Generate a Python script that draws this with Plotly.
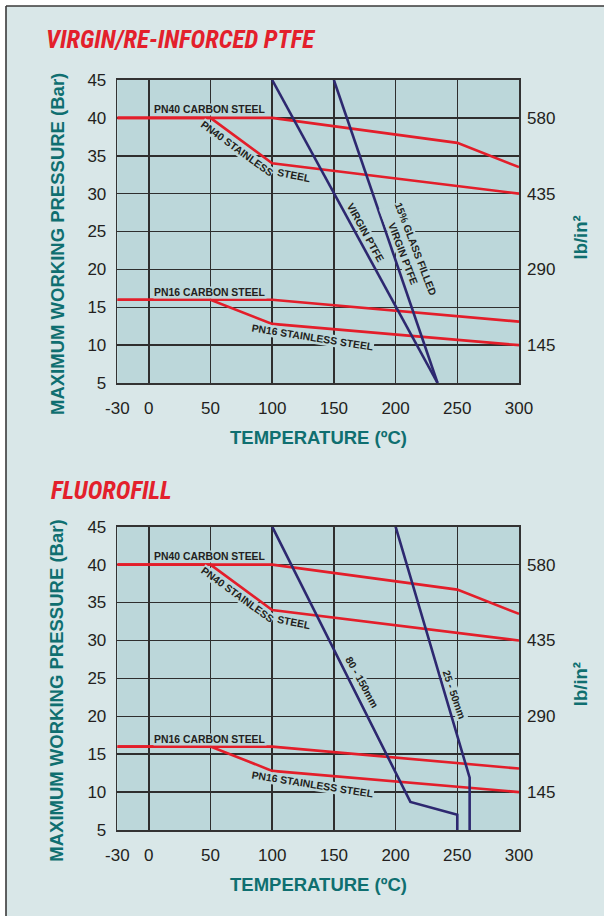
import plotly.graph_objects as go

# ---------------- data ----------------
X_TICKS = [-30, 0, 50, 100, 150, 200, 250, 300]
Y_TICKS = [5, 10, 15, 20, 25, 30, 35, 40, 45]
PSI_TICKS = [145, 290, 435, 580]
BAR_TO_PSI = 14.5

# red pressure ratings (same for both charts)
T_PN40_CS = [-30, 100, 250, 300]
P_PN40_CS = [40, 40, 36.7, 33.5]
T_PN40_SS = [-30, 50, 100, 300]
P_PN40_SS = [40, 40, 34, 30]
T_PN16_CS = [-30, 100, 300]
P_PN16_CS = [16, 16, 13.1]
T_PN16_SS = [-30, 50, 100, 300]
P_PN16_SS = [16, 16, 12.8, 10]

# Virgin / re-inforced PTFE
T_VIRGIN = [100, 234]
P_VIRGIN = [45, 5]
T_GLASS = [150, 234]
P_GLASS = [45, 5]

# Fluorofill
T_F80_150 = [100, 212, 250, 250]
P_F80_150 = [45, 8.7, 7.0, 5]
T_F25_50 = [200, 260, 260]
P_F25_50 = [45, 11.9, 5]

# ---------------- style ----------------
PAGE_BG = "#d9e7e8"
PLOT_BG = "#bcd7da"
RED = "#e31e2a"
NAVY = "#2d2870"
TEAL = "#0f6f70"
GRID = "#2e2e2e"
TXT = "#231f20"
FONT = "Liberation Sans, Arial, sans-serif"
TITLE_FONT = "Roboto Condensed, Liberation Sans Narrow, DejaVu Sans Condensed, Liberation Sans, sans-serif"
W, H = 604, 916

NEG_SCALE = 0.85  # the -30..0 segment of the temperature axis is compressed


def tx(t):
    return t if t >= 0 else t * NEG_SCALE


def txs(ts):
    return [tx(t) for t in ts]


fig = go.Figure()


def add_line(xs, ys, color, xa, ya):
    fig.add_trace(go.Scatter(x=txs(xs), y=ys, mode="lines",
                             line=dict(color=color, width=2.6),
                             xaxis=xa, yaxis=ya, hoverinfo="skip",
                             showlegend=False))


for xa, ya in [("x", "y"), ("x2", "y2")]:
    add_line(T_PN40_CS, P_PN40_CS, RED, xa, ya)
    add_line(T_PN40_SS, P_PN40_SS, RED, xa, ya)
    add_line(T_PN16_CS, P_PN16_CS, RED, xa, ya)
    add_line(T_PN16_SS, P_PN16_SS, RED, xa, ya)

add_line(T_VIRGIN, P_VIRGIN, NAVY, "x", "y")
add_line(T_GLASS, P_GLASS, NAVY, "x", "y")
add_line(T_F80_150, P_F80_150, NAVY, "x2", "y2")
add_line(T_F25_50, P_F25_50, NAVY, "x2", "y2")

# invisible carriers for the lb/in2 axes
for xa, ya in [("x", "y3"), ("x2", "y4")]:
    fig.add_trace(go.Scatter(x=[tx(300)] * len(PSI_TICKS), y=PSI_TICKS,
                             mode="markers", marker=dict(opacity=0),
                             xaxis=xa, yaxis=ya, hoverinfo="skip",
                             showlegend=False))

# plot area geometry (pixels)
PX_L, PX_R = 117.3, 519
TOP1, BOT1 = 80, 383
TOP2, BOT2 = 526.7, 830
xdom = [PX_L / W, PX_R / W]

xaxis_common = dict(
    range=[tx(-30), 300], tickvals=txs(X_TICKS), ticktext=[str(t) for t in X_TICKS],
    showgrid=True, gridcolor=GRID, gridwidth=1.5, zeroline=False,
    showline=True, linecolor="#333333", linewidth=1.6, mirror=True,
    ticks="", ticklabelstandoff=9, automargin=False,
    tickfont=dict(family=FONT, size=17, color=TXT), fixedrange=True,
)
yaxis_common = dict(
    range=[5, 45], tickvals=Y_TICKS,
    showgrid=True, gridcolor=GRID, gridwidth=1.5, zeroline=False,
    showline=True, linecolor="#333333", linewidth=1.6, mirror=True,
    ticks="", ticklabelstandoff=6, automargin=False,
    tickfont=dict(family=FONT, size=17, color=TXT), fixedrange=True,
)
psi_common = dict(
    side="right", range=[5 * BAR_TO_PSI, 45 * BAR_TO_PSI], tickvals=PSI_TICKS,
    showgrid=False, zeroline=False, showline=False, ticks="",
    ticklabelstandoff=7, automargin=False,
    tickfont=dict(family=FONT, size=17, color=TXT), fixedrange=True,
)

fig.update_layout(
    width=W, height=H, margin=dict(l=0, r=0, t=0, b=0, pad=0, autoexpand=False),
    paper_bgcolor=PAGE_BG, plot_bgcolor=PLOT_BG,
    showlegend=False,
    xaxis=dict(domain=xdom, anchor="y", **xaxis_common),
    yaxis=dict(domain=[1 - BOT1 / H, 1 - TOP1 / H], anchor="x", **yaxis_common),
    xaxis2=dict(domain=xdom, anchor="y2", **xaxis_common),
    yaxis2=dict(domain=[1 - BOT2 / H, 1 - TOP2 / H], anchor="x2", **yaxis_common),
    yaxis3=dict(overlaying="y", anchor="x", **psi_common),
    yaxis4=dict(overlaying="y2", anchor="x2", **psi_common),
)

# outer white strip + frame
fig.add_shape(type="rect", xref="paper", yref="paper", x0=0, x1=6 / W, y0=0, y1=1,
              fillcolor="white", line_width=0, layer="above")
fig.add_shape(type="rect", xref="paper", yref="paper", x0=0, x1=1, y0=1 - 6 / H, y1=1,
              fillcolor="white", line_width=0, layer="above")
fig.add_shape(type="line", xref="paper", yref="paper", x0=6 / W, x1=6 / W, y0=0, y1=1 - 6 / H,
              line=dict(color="#3a3a3a", width=1.6))
fig.add_shape(type="line", xref="paper", yref="paper", x0=6 / W, x1=1, y0=1 - 6 / H, y1=1 - 6 / H,
              line=dict(color="#3a3a3a", width=1.6))


def label(text, x, y, xa, ya, angle=0, size=10.4):
    fig.add_annotation(text=text, x=tx(x), y=y, xref=xa, yref=ya, showarrow=False,
                       textangle=angle, bgcolor=PLOT_BG, borderpad=0,
                       font=dict(family=FONT, size=size, color=TXT, weight="bold"))


def paper_text(text, px, py, size, color, angle=0, anchor="center", family=FONT, italic=False):
    fig.add_annotation(text=text, x=px / W, y=1 - py / H, xref="paper", yref="paper",
                       showarrow=False, textangle=angle, xanchor=anchor, yanchor="middle",
                       font=dict(family=family, size=size, color=color, weight="bold",
                                 style="italic" if italic else "normal"))


for xa, ya, off in [("x", "y", 0), ("x2", "y2", TOP2 - TOP1)]:
    label("PN40 CARBON STEEL", 50, 41.1, xa, ya)
    label("PN40 STAINLESS", 71.3, 36.0, xa, ya, angle=36)
    label("STEEL", 117.5, 32.35, xa, ya, angle=11)
    label("PN16 CARBON STEEL", 50, 17.0, xa, ya)
    label("PN16 STAINLESS STEEL", 132.3, 11.0, xa, ya, angle=9)

    paper_text("TEMPERATURE (ºC)", (PX_L + PX_R) / 2, 437.5 + off, 18.5, TEAL)
    paper_text("MAXIMUM WORKING PRESSURE (Bar)", 57, 244 + off, 18.5, TEAL, angle=-90)
    paper_text("lb/in²", 580, 237.5 + off, 18.5, TEAL, angle=-90)

label("VIRGIN PTFE", 175.5, 24.9, "x", "y", angle=61)
label("15% GLASS FILLED<br>VIRGIN PTFE", 211, 22.4, "x", "y", angle=69)
label("80 - 150mm", 172.6, 24.4, "x2", "y2", angle=61)
label("25 - 50mm", 247.4, 22.9, "x2", "y2", angle=71)

paper_text("VIRGIN/RE-INFORCED PTFE", 44, 40, 25, "#e3202b", anchor="left",
           family=TITLE_FONT, italic=True)
paper_text("FLUOROFILL", 49, 490, 25, "#e3202b", anchor="left",
           family=TITLE_FONT, italic=True)

POST = (
    "document.documentElement.style.margin='0';"
    "document.body.style.margin='0';document.body.style.padding='0';"
    "document.body.style.background='" + PAGE_BG + "';"
)

fig.write_html("out.html", config={"displayModeBar": False, "staticPlot": True},
               post_script=POST)
